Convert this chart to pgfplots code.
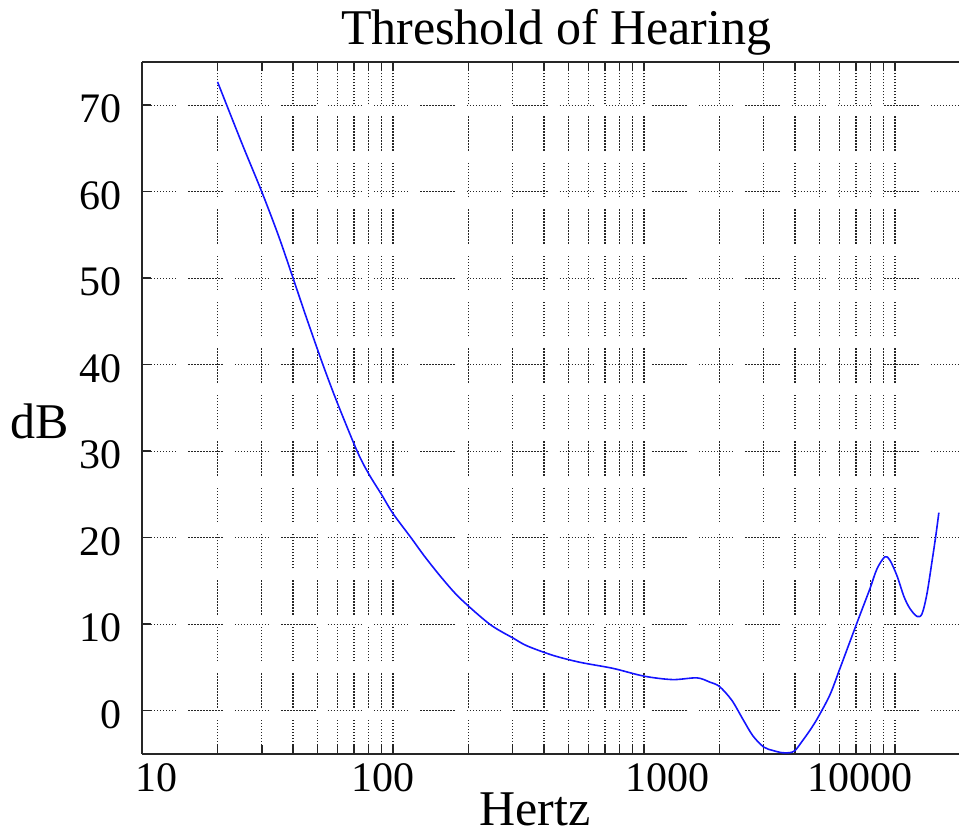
\documentclass[border=0pt]{standalone}
\usepackage{fontspec}
\setmainfont{Liberation Serif}
\usepackage{pgfplots}
\pgfplotsset{compat=1.18}

% broken dotted grid lines: runs of small dots separated by short gaps
\tikzset{gnugrid/.style={line width=0.7pt, black!85,
  dash pattern=on .7pt off .8pt on .7pt off .8pt on .7pt off .8pt on .7pt off .8pt
  on .7pt off .8pt on .7pt off .8pt on .7pt off .8pt on .7pt off .8pt
  on .7pt off .8pt on .7pt off .8pt on .7pt off .8pt on .7pt off 6pt}}

\pgfplotstableread{
hz     db
20     72.7
25     65.6
30     60.0
35     54.9
40     50.0
45     45.6
52.6   40.0
60     35.6
72     30.0
80     27.4
90     25.0
100    22.8
118    20.0
134    17.8
157    15.3
185    13.0
243    10.0
301    8.4
342    7.5
434    6.4
556    5.6
752    4.9
1000   4.0
1300   3.6
1626   3.8
1833   3.3
2000   2.8
2240   1.2
2480   -1.0
2716   -2.9
3000   -4.2
3266   -4.6
3550   -4.85
3800   -4.85
4000   -4.6
4300   -3.4
4600   -2.2
4930   -0.8
5510   1.85
6040   4.9
6620   8.0
7260   11.1
7950   14.1
8480   16.4
9120   17.8
9550   17.4
10190  15.6
10860  13.2
11480  11.8
12250  10.9
12820  11.2
13410  13.5
14040  17.2
14560  20.3
14960  22.9
}\threshold

\begin{document}
\begin{tikzpicture}
\begin{semilogxaxis}[
  name=ax,
  scale only axis,
  width=408.5pt, height=346pt,
  xmin=10, xmax=18000,
  ymin=-5, ymax=75,
  axis x line=box,
  axis y line=left,
  axis line style={-, black!85, line width=1pt},
  tick align=inside,
  major tick length=4.5pt,
  minor tick length=4.5pt,
  every tick/.style={black!85, line width=0.75pt},
  xtick={10,100,1000,10000},
  xticklabels={\makebox[0pt]{\hspace*{15pt}10},
               \makebox[0pt]{\hspace*{-10pt}100},
               \makebox[0pt]{\hspace*{24pt}1000},
               \makebox[0pt]{\hspace*{-35pt}10000}},
  ytick={0,10,...,70},
  minor ytick={},
  /pgf/number format/assume math mode=true,
  tick label style={font=\fontsize{21}{21}\selectfont},
  xticklabel style={anchor=north, inner sep=0pt, yshift=-4.5pt},
  yticklabel style={anchor=east, inner sep=0pt, xshift=-10pt, yshift=-2pt},
  xmajorgrids, xminorgrids, ymajorgrids,
  major grid style={gnugrid},
  minor grid style={gnugrid},
  title={Threshold of Hearing},
  every axis title/.style={font=\fontsize{25}{25}\selectfont, inner sep=0pt,
    at={(0.507,1)}, anchor=base, yshift=8.5pt},
  xlabel={Hertz},
  every axis x label/.style={font=\fontsize{25}{25}\selectfont, inner sep=0pt,
    at={(0.481,0)}, anchor=base, yshift=-36pt},
  ylabel={dB},
  every axis y label/.style={font=\fontsize{25}{25}\selectfont, inner sep=0pt,
    at={(0,0.4566)}, anchor=base west, xshift=-66pt},
]
\addplot[color={rgb,255:red,20;green,20;blue,255}, line width=0.8pt, smooth, tension=0.5]
  table[x=hz, y=db] {\threshold};
\end{semilogxaxis}
\pgfresetboundingbox
\path (ax.south west) ++(-71pt,-41pt) coordinate (bbA);
\path (ax.north east) ++(0pt,31pt) coordinate (bbB);
\useasboundingbox (bbA) rectangle (bbB);
\end{tikzpicture}
\end{document}
